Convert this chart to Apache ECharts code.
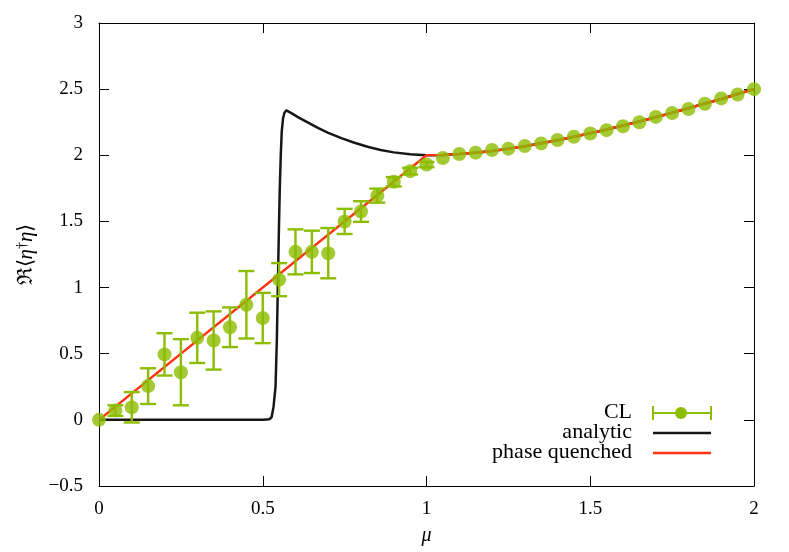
<!DOCTYPE html>
<html>
<head>
<meta charset="utf-8">
<script src="https://cdn.jsdelivr.net/npm/echarts@6/dist/echarts.min.js"></script>
<style>
  html, body { margin: 0; padding: 0; background: #fff; }
  #box { width: 789px; height: 552px; }
</style>
</head>
<body>
<div id="box"></div>
<script>
// CL data (mu, value, error bar half-width)
var clMu = [0, 0.05, 0.1, 0.15, 0.2, 0.25, 0.3, 0.35, 0.4, 0.45, 0.5, 0.55, 0.6, 0.65, 0.7, 0.75, 0.8, 0.85, 0.9, 0.95,
            1.0, 1.05, 1.1, 1.15, 1.2, 1.25, 1.3, 1.35, 1.4, 1.45, 1.5, 1.55, 1.6, 1.65, 1.7, 1.75, 1.8, 1.85, 1.9, 1.95, 2.0]
var clVal = [0, 0.07, 0.095, 0.255, 0.495, 0.36, 0.62, 0.6, 0.7, 0.87, 0.77, 1.06, 1.27, 1.27, 1.26, 1.5, 1.575, 1.695, 1.8, 1.88,
             1.93, 1.98, 2.01, 2.02, 2.04, 2.05, 2.07, 2.09, 2.115, 2.14, 2.165, 2.19, 2.22, 2.25, 2.29, 2.32, 2.35, 2.39, 2.43, 2.46, 2.5]
var clErr = [0, 0.04, 0.115, 0.135, 0.16, 0.25, 0.19, 0.22, 0.15, 0.255, 0.19, 0.125, 0.17, 0.16, 0.19, 0.095, 0.078, 0.053, 0.035, 0.025,
             0.02, 0, 0, 0, 0, 0, 0, 0, 0, 0, 0, 0, 0, 0, 0, 0, 0, 0, 0, 0, 0]

// analytic curve
var anMu = [0, 0.5, 0.52, 0.527, 0.533, 0.539, 0.543, 0.546, 0.549, 0.552, 0.555, 0.558, 0.562, 0.566, 0.572, 0.59, 0.61, 0.64,
            0.67, 0.7, 0.74, 0.78, 0.82, 0.86, 0.9, 0.95, 1.0, 1.05, 1.1, 1.15, 1.2, 1.25, 1.3, 1.35, 1.4, 1.45, 1.5, 1.55, 1.6, 1.65,
            1.7, 1.75, 1.8, 1.85, 1.9, 1.95, 2.0]
var anVal = [0, 0, 0.005, 0.02, 0.1, 0.25, 0.6, 1.0, 1.4, 1.75, 2.0, 2.18, 2.28, 2.32, 2.34, 2.315, 2.285, 2.245,
             2.205, 2.17, 2.13, 2.095, 2.065, 2.04, 2.022, 2.008, 2.0, 2.002, 2.009, 2.02, 2.033, 2.05, 2.069, 2.091, 2.114, 2.14, 2.167, 2.195, 2.225, 2.256,
             2.288, 2.321, 2.356, 2.391, 2.426, 2.463, 2.5]

// phase quenched curve
var pqMu = [0, 1.0, 1.05, 1.1, 1.15, 1.2, 1.25, 1.3, 1.35, 1.4, 1.45, 1.5, 1.55, 1.6, 1.65, 1.7, 1.75, 1.8, 1.85, 1.9, 1.95, 2.0]
var pqVal = [0, 2.0, 2.002, 2.009, 2.02, 2.033, 2.05, 2.069, 2.091, 2.114, 2.14, 2.167, 2.195, 2.225, 2.256, 2.288, 2.321, 2.356, 2.391, 2.426, 2.463, 2.5]

var xTicks = [0, 0.5, 1, 1.5, 2]
var yTicks = [-0.5, 0, 0.5, 1, 1.5, 2, 2.5, 3]

var green = '#8cbd00'
var red = '#ff3311'
var black = '#1a1616'
var font = 'Liberation Serif'

function zip(a, b, c) {
    return a.map(function (v, i) { return c ? [v, b[i], c[i]] : [v, b[i]] })
}

function fmt(v) {
    return String(v).replace('-', '\u2212')
}

var chart = echarts.init(document.getElementById('box'))

var axisCommon = {
    type: 'value',
    axisLine: { show: true, onZero: false, lineStyle: { color: '#000', width: 1 } },
    axisTick: { show: true, inside: true, length: 10, lineStyle: { color: '#000' } },
    splitLine: { show: false }
}

chart.setOption({
    animation: false,
    textStyle: { fontFamily: font },
    grid: { left: 99, right: 35, top: 23, bottom: 66, containLabel: false, outerBoundsMode: 'none' },
    xAxis: [
        Object.assign({}, axisCommon, {
            min: xTicks[0], max: xTicks[xTicks.length - 1], interval: 0.5,
            position: 'bottom',
            name: 'μ', nameLocation: 'middle', nameGap: 40,
            nameTextStyle: { fontFamily: font, fontStyle: 'italic', fontSize: 20, color: '#000' },
            axisLabel: { margin: 14, fontSize: 19, color: '#000', fontFamily: font, formatter: fmt }
        }),
        Object.assign({}, axisCommon, {
            min: xTicks[0], max: xTicks[xTicks.length - 1], interval: 0.5,
            position: 'top', axisLabel: { show: false }
        })
    ],
    yAxis: [
        Object.assign({}, axisCommon, {
            min: yTicks[0], max: yTicks[yTicks.length - 1], interval: 0.5,
            position: 'left',
            name: '{a|ℜ⟨}{i|η}{s|†}{i|η}{a|⟩}', nameLocation: 'middle', nameGap: 62, nameRotate: 90,
            nameTextStyle: {
                color: '#000',
                rich: {
                    a: { fontFamily: font, fontSize: 21, color: '#000' },
                    i: { fontFamily: font, fontSize: 21, fontStyle: 'italic', color: '#000' },
                    s: { fontFamily: font, fontSize: 14, color: '#000', verticalAlign: 'top', padding: [0, 0, 8, 0] }
                }
            },
            axisLabel: { margin: 16, fontSize: 19, color: '#000', fontFamily: font, formatter: fmt }
        }),
        Object.assign({}, axisCommon, {
            min: yTicks[0], max: yTicks[yTicks.length - 1], interval: 0.5,
            position: 'right', axisLabel: { show: false }
        })
    ],
    series: [
        {
            name: 'analytic',
            type: 'line',
            data: zip(anMu, anVal),
            showSymbol: false,
            symbol: 'none',
            lineStyle: { color: black, width: 2.5 },
            z: 1
        },
        {
            name: 'phase quenched',
            type: 'line',
            data: zip(pqMu, pqVal),
            showSymbol: false,
            symbol: 'none',
            lineStyle: { color: red, width: 2.5 },
            z: 2
        },
        {
            name: 'CL',
            type: 'custom',
            data: zip(clMu, clVal, clErr),
            z: 3,
            renderItem: function (params, api) {
                var x = api.value(0), y = api.value(1), e = api.value(2)
                if (!(e > 0)) return
                var top = api.coord([x, y + e])
                var bot = api.coord([x, y - e])
                var hw = 8
                var st = { stroke: green, lineWidth: 2.4 }
                return {
                    type: 'group',
                    children: [
                        { type: 'line', shape: { x1: top[0], y1: top[1], x2: bot[0], y2: bot[1] }, style: st },
                        { type: 'line', shape: { x1: top[0] - hw, y1: top[1], x2: top[0] + hw, y2: top[1] }, style: st },
                        { type: 'line', shape: { x1: bot[0] - hw, y1: bot[1], x2: bot[0] + hw, y2: bot[1] }, style: st }
                    ]
                }
            }
        },
        {
            name: 'CL',
            type: 'scatter',
            data: zip(clMu, clVal),
            symbol: 'circle',
            symbolSize: 14,
            itemStyle: { color: green },
            z: 4
        }
    ],
    graphic: [
        { type: 'text', right: 789 - 632, top: 401, style: { text: 'CL', font: '22px "Liberation Serif"', fill: '#000' } },
        { type: 'text', right: 789 - 632, top: 421, style: { text: 'analytic', font: '22px "Liberation Serif"', fill: '#000' } },
        { type: 'text', right: 789 - 632, top: 441, style: { text: 'phase quenched', font: '22px "Liberation Serif"', fill: '#000' } },
        { type: 'line', shape: { x1: 653, y1: 413, x2: 711, y2: 413 }, style: { stroke: green, lineWidth: 2 } },
        { type: 'line', shape: { x1: 653, y1: 406, x2: 653, y2: 420 }, style: { stroke: green, lineWidth: 2 } },
        { type: 'line', shape: { x1: 711, y1: 406, x2: 711, y2: 420 }, style: { stroke: green, lineWidth: 2 } },
        { type: 'circle', shape: { cx: 681, cy: 413, r: 6 }, style: { fill: green } },
        { type: 'line', shape: { x1: 653, y1: 433, x2: 711, y2: 433 }, style: { stroke: black, lineWidth: 2.5 } },
        { type: 'line', shape: { x1: 653, y1: 453, x2: 711, y2: 453 }, style: { stroke: red, lineWidth: 2.5 } }
    ]
})
</script>
</body>
</html>
